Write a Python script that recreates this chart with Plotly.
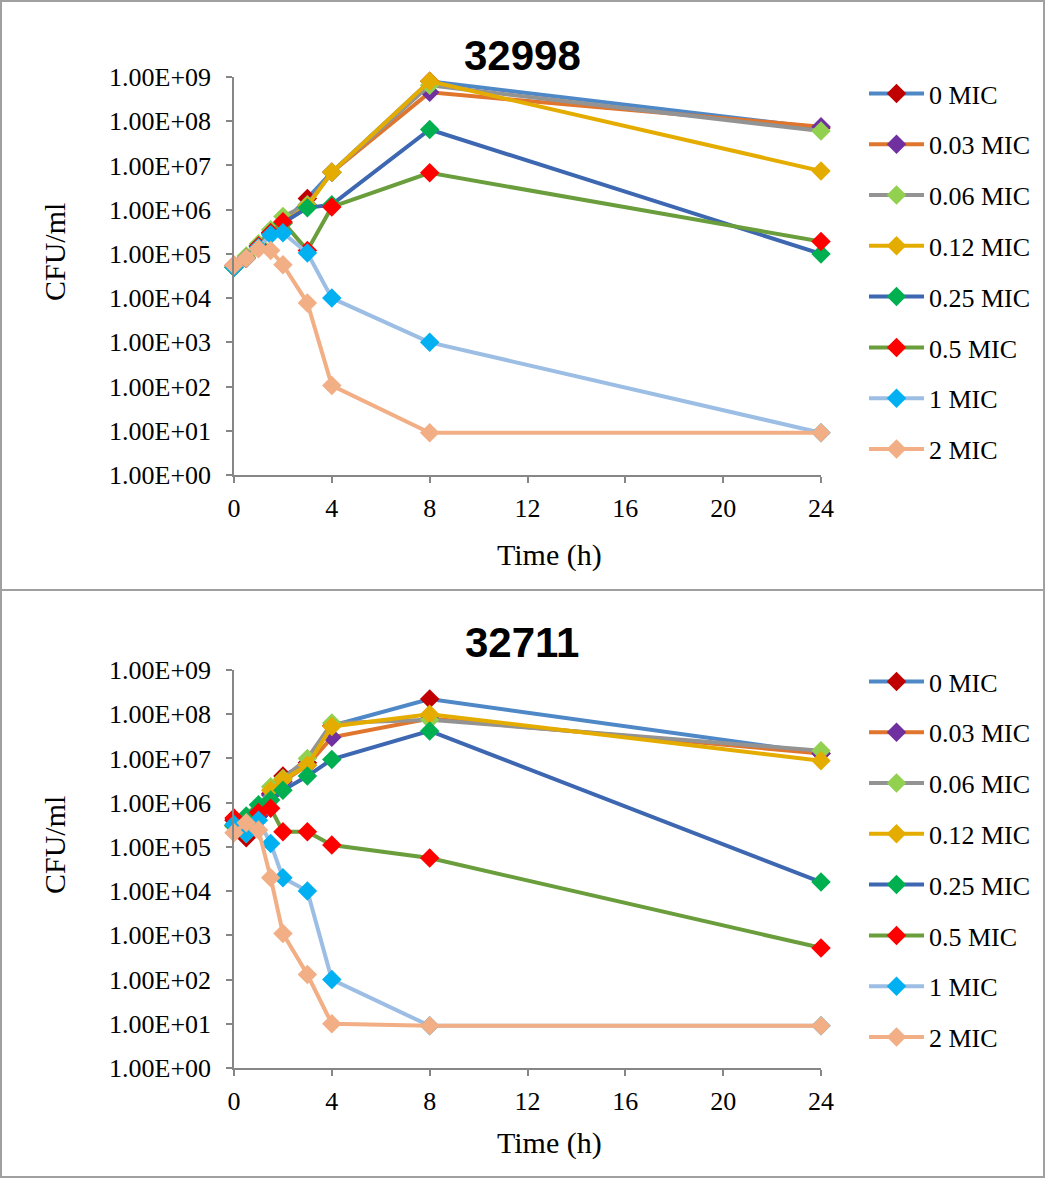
import plotly.graph_objects as go

W, H = 1046, 1178

time_h = [0, 0.5, 1, 1.5, 2, 3, 4, 8, 24]
series_names = ["0 MIC", "0.03 MIC", "0.06 MIC", "0.12 MIC", "0.25 MIC", "0.5 MIC", "1 MIC", "2 MIC"]

# Strain 32998
s32998_mic0 = [5e4, 8e4, 1.5e5, 3e5, 5e5, 1.8e6, 7e6, 8e8, 7e7]
s32998_mic003 = [5e4, 8e4, 1.5e5, 3e5, 5e5, 1.3e6, 7e6, 4.5e8, 7.5e7]
s32998_mic006 = [5e4, 9e4, 1.7e5, 3.5e5, 7e5, 1.3e6, 7e6, 6.5e8, 6e7]
s32998_mic012 = [5e4, 8e4, 1.5e5, 3e5, 5e5, 1.2e6, 7e6, 8e8, 7.5e6]
s32998_mic025 = [5e4, 8e4, 1.5e5, 3e5, 5e5, 1.1e6, 1.3e6, 6.5e7, 1e5]
s32998_mic05 = [5.5e4, 8e4, 1.5e5, 3e5, 5.3e5, 1.2e5, 1.15e6, 6.8e6, 1.9e5]
s32998_mic1 = [5e4, 8e4, 1.4e5, 2.7e5, 3e5, 1.05e5, 1e4, 1e3, 9]
s32998_mic2 = [5.5e4, 8e4, 1.3e5, 1.2e5, 5.7e4, 7.8e3, 105, 9, 9]

# Strain 32711
s32711_mic0 = [4e5, 1.6e5, 5e5, 1.6e6, 4e6, 8e6, 5.5e7, 2.2e8, 1.3e7]
s32711_mic003 = [3e5, 2e5, 5e5, 1.5e6, 3e6, 7e6, 3e7, 8e7, 1.3e7]
s32711_mic006 = [3e5, 2.5e5, 7e5, 2.3e6, 3.5e6, 1e7, 6.3e7, 7.5e7, 1.5e7]
s32711_mic012 = [3e5, 2e5, 6e5, 1.9e6, 3.3e6, 7e6, 5.3e7, 1e8, 8.9e6]
s32711_mic025 = [3e5, 5e5, 9e5, 1.15e6, 1.9e6, 4e6, 9.5e6, 4.2e7, 1.6e4]
s32711_mic05 = [4.5e5, 2.5e5, 6e5, 7.5e5, 2.2e5, 2.2e5, 1.1e5, 5.6e4, 520]
s32711_mic1 = [3.2e5, 2e5, 4e5, 1.2e5, 2e4, 1e4, 100, 9, 9]
s32711_mic2 = [2.1e5, 3.5e5, 2.4e5, 2e4, 1.1e3, 130, 10, 9, 9]

panel_titles = ["32998", "32711"]
ytick_vals = [1, 1e1, 1e2, 1e3, 1e4, 1e5, 1e6, 1e7, 1e8, 1e9]
ytick_text = ["1.00E+00", "1.00E+01", "1.00E+02", "1.00E+03", "1.00E+04",
              "1.00E+05", "1.00E+06", "1.00E+07", "1.00E+08", "1.00E+09"]
xtick_vals = [0, 4, 8, 12, 16, 20, 24]

line_colors = ["#4F88C6", "#E0752D", "#939393", "#E5AC00", "#3D67B1", "#6A9D3C", "#9CBEE4", "#F2AE84"]
marker_colors = ["#C00000", "#7030A0", "#92D050", "#E5AC00", "#00B050", "#FF0000", "#00B0F0", "#F2AE84"]

panels = [
    [s32998_mic0, s32998_mic003, s32998_mic006, s32998_mic012, s32998_mic025, s32998_mic05, s32998_mic1, s32998_mic2],
    [s32711_mic0, s32711_mic003, s32711_mic006, s32711_mic012, s32711_mic025, s32711_mic05, s32711_mic1, s32711_mic2],
]

SERIF = "Liberation Serif"
fig = go.Figure()

plot_left, plot_right = 234, 821
panel_rows = [(77, 475), (670, 1068)]
panel_bounds = [(0, 590), (590, 1177)]
title_y = [55, 642]
xtitle_y = [555, 1143]
ytitle_y = [252, 845]
legend_top = [70, 658]

def py(y):
    return 1 - y / H

for p, data in enumerate(panels):
    xa = "x" if p == 0 else "x2"
    ya = "y" if p == 0 else "y2"
    lg = "legend" if p == 0 else "legend2"
    for i, name in enumerate(series_names):
        fig.add_trace(go.Scatter(
            x=time_h, y=data[i], name=name, mode="lines+markers",
            line=dict(color=line_colors[i], width=4),
            marker=dict(symbol="diamond", size=15, color=marker_colors[i], line=dict(width=0)),
            xaxis=xa, yaxis=ya, legend=lg, legendgroup=f"{p}_{i}",
            cliponaxis=False,
        ))

axis_common = dict(
    showgrid=False, zeroline=False, showline=True, linecolor="#868686", linewidth=1.5,
    ticks="outside", tickcolor="#868686", ticklen=6, tickwidth=1.5, automargin=False,
    tickfont=dict(family=SERIF, size=26, color="black"),
)

for p, (yt, yb) in enumerate(panel_rows):
    xkey = "xaxis" if p == 0 else "xaxis2"
    ykey = "yaxis" if p == 0 else "yaxis2"
    fig.update_layout({
        xkey: dict(domain=[plot_left / W, plot_right / W], range=[0, 24], tickvals=xtick_vals,
                   anchor="y" if p == 0 else "y2", ticklabelstandoff=3, **axis_common),
        ykey: dict(domain=[py(yb), py(yt)], type="log", range=[0, 9], tickvals=ytick_vals,
                   ticktext=ytick_text, anchor="x" if p == 0 else "x2", ticklabelstandoff=10,
                   **axis_common),
    })

annotations = []
shapes = []
for p, (yt, yb) in enumerate(panel_rows):
    annotations.append(dict(text=f"<b>{panel_titles[p]}</b>", x=522 / W, y=py(title_y[p]), xref="paper", yref="paper",
                            showarrow=False, font=dict(family="Liberation Sans", size=42, color="black"),
                            xanchor="center", yanchor="middle"))
    annotations.append(dict(text="Time (h)", x=549 / W, y=py(xtitle_y[p]), xref="paper", yref="paper",
                            showarrow=False, font=dict(family=SERIF, size=30, color="black"),
                            xanchor="center", yanchor="middle"))
    annotations.append(dict(text="CFU/ml", x=54 / W, y=py(ytitle_y[p]), xref="paper", yref="paper",
                            showarrow=False, textangle=-90, font=dict(family=SERIF, size=30, color="black"),
                            xanchor="center", yanchor="middle"))
    shapes.append(dict(type="rect", xref="paper", yref="paper", x0=1 / W, x1=1 - 2 / W,
                       y0=py(panel_bounds[p][1]), y1=py(panel_bounds[p][0] + (1 if p == 0 else 0)),
                       line=dict(color="#A0A0A0", width=2), fillcolor="rgba(0,0,0,0)"))

legend_common = dict(
    font=dict(family=SERIF, size=26, color="black"), bgcolor="rgba(0,0,0,0)",
    tracegroupgap=14, itemwidth=55, xanchor="left", yanchor="top", traceorder="grouped",
)

fig.update_layout(
    width=W, height=H, margin=dict(l=0, r=0, t=0, b=0, autoexpand=False),
    paper_bgcolor="white", plot_bgcolor="white",
    showlegend=True,
    legend=dict(x=864 / W, y=py(legend_top[0]), **legend_common),
    legend2=dict(x=864 / W, y=py(legend_top[1]), **legend_common),
    annotations=annotations, shapes=shapes,
)

fig.write_html("out.html", post_script="document.body.style.margin='0';document.body.style.overflow='hidden';")
